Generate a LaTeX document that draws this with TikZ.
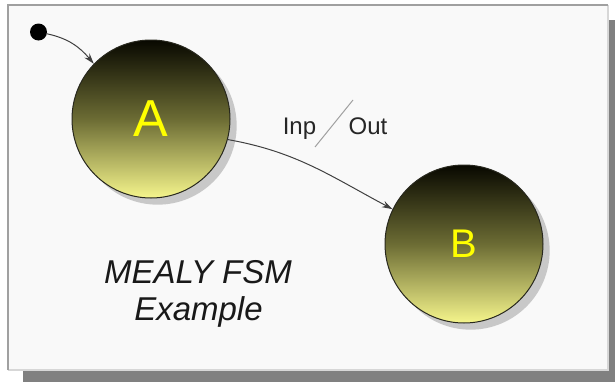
\documentclass[tikz,border=0pt]{standalone}
\usepackage{fontspec}
\setmainfont{Liberation Sans}
\usetikzlibrary{arrows.meta,shadows}

\definecolor{panelbg}{RGB}{249,249,249}
\definecolor{panelshadow}{RGB}{128,128,128}
\definecolor{panelline}{RGB}{160,160,160}
\definecolor{panellight}{RGB}{215,215,215}
\definecolor{balltop}{RGB}{8,8,0}
\definecolor{ballmid}{RGB}{108,108,52}
\definecolor{ballbot}{RGB}{245,245,140}
\definecolor{ballline}{RGB}{40,40,30}
\definecolor{ballshadow}{RGB}{200,200,200}
\definecolor{statetext}{RGB}{255,255,0}
\definecolor{arrowline}{RGB}{64,64,64}

\begin{document}
\begin{tikzpicture}[x=0.75pt, y=-0.75pt,
    fsmstate/.style={draw=ballline, circle, line width=0.75pt, minimum size=118.5pt, inner sep=0pt,
        top color=balltop, bottom color=ballbot, middle color=ballmid, text=statetext,
        drop shadow={shadow xshift=5pt, shadow yshift=-5pt, fill=ballshadow, opacity=1}},
    trans/.style={draw=arrowline, line width=0.75pt, -{Stealth[length=8pt, width=5pt]}},
    translabel/.style={anchor=base, inner sep=0pt, text=black!85, font=\fontsize{18}{20}\selectfont},
    titletext/.style={anchor=base, inner sep=0pt, text=black!90, font=\fontsize{24.75}{28}\selectfont\itshape}]
    \useasboundingbox (0,0) rectangle (615,382);
    \fill[white] (0,0) rectangle (615,382);

    % panel with its shadow
    \fill[panelshadow] (23,20) rectangle (615,382);
    \fill[panelbg] (8,5) rectangle (608,370);
    \draw[panellight, line width=1.5pt] (608,5) -- (608,370) -- (8,370);
    \draw[panelline, line width=1.5pt] (8,370) -- (8,5) -- (608,5);

    % states
    \node[fsmstate, font=\fontsize{39}{42}\selectfont] (A) at (151,119) {A};
    \node[fsmstate, font=\fontsize{30}{32}\selectfont] (B) at (464,244) {B};
    \node[circle, fill=black, minimum size=12.75pt, inner sep=0pt] (init) at (38.5,32) {};

    % transitions
    \draw[trans] (init) to[out=-12, in=130] (A.136);
    \draw[trans] (A.-15) to[out=-10, in=152] (B.154);

    % transition label
    \node[translabel] (inp) at (299.5,134) {Inp};
    \node[translabel] (out) at (368,134) {Out};
    \draw[panelline, line width=0.75pt] (315,147) -- (353,100);

    % title
    \node[titletext] (title) at (198,283) {MEALY FSM};
    \node[titletext] (subtitle) at (198.5,320) {Example};
\end{tikzpicture}
\end{document}
